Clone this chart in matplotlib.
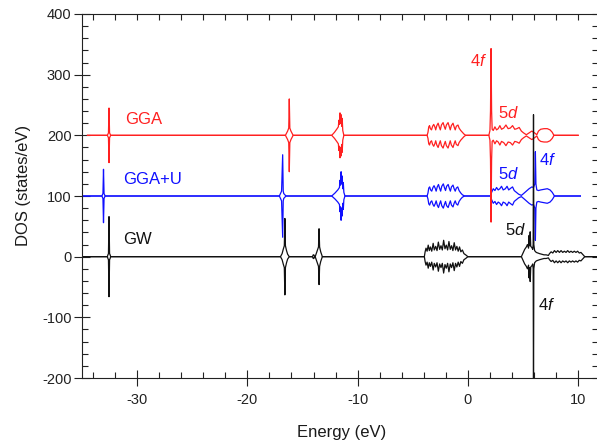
import matplotlib
matplotlib.use("Agg")
import matplotlib.pyplot as plt
from matplotlib.ticker import MultipleLocator, NullFormatter

plt.rcParams['font.family'] = ['Liberation Sans', 'DejaVu Sans']
plt.rcParams['mathtext.fontset'] = 'custom'
plt.rcParams['mathtext.rm'] = 'Liberation Sans'
plt.rcParams['mathtext.it'] = 'Liberation Sans:italic'
plt.rcParams['axes.unicode_minus'] = False

# ---- density of states (one spin channel; the other is drawn mirrored) ----
gga_energy = [-34.5, -32.7, -32.6, -32.55, -32.5, -32.4,
              -16.55, -16.35, -16.25, -16.2, -16.15, -16.05, -15.85,
              -12.35, -12.1, -11.9, -11.75, -11.7, -11.65, -11.6, -11.55, -11.5,
              -11.45, -11.4, -11.35, -11.25,
              -3.7, -3.62, -3.55, -3.48, -3.4, -3.3, -3.2, -3.1, -3.0, -2.92, -2.82,
              -2.7, -2.6, -2.5, -2.4, -2.25, -2.15, -2.05, -1.95, -1.8, -1.7, -1.6,
              -1.5, -1.35, -1.25, -1.15, -1.05, -0.9, -0.8, -0.65, -0.5, -0.35, -0.2,
              1.9, 2.0, 2.05, 2.1, 2.15, 2.2, 2.3, 2.45, 2.6, 2.75, 2.9, 3.05, 3.25,
              3.45, 3.65, 3.85, 4.05, 4.25, 4.45, 4.65, 4.85, 5.05, 5.3, 5.55, 5.8,
              6.05, 6.25, 6.4, 6.6, 6.9, 7.2, 7.45, 7.65, 7.8, 10.0]
gga_dos = [0, 0, 4, 45, 4, 0,
           0, 7, 12, 60, 12, 7, 0,
           0, 5, 10, 14, 25, 18, 37, 20, 34,
           15, 28, 8, 0,
           0, 5, 14, 16, 11, 9, 15, 18, 14, 9, 16,
           20, 14, 9, 17, 21, 15, 10, 17, 21, 15, 9,
           16, 20, 14, 9, 15, 17, 12, 8, 5, 2, 0,
           0, 8, 40, 143, 40, 10, 8, 14, 9, 11, 16, 10, 12,
           17, 11, 12, 16, 10, 11, 13, 7, 4, 1, 4, 7,
           4, 1, 7, 10, 11, 11, 9, 5, 0, 0]

ggau_energy = [-35.0, -33.2, -33.1, -33.05, -33.0, -32.9,
               -17.1, -16.9, -16.8, -16.75, -16.7, -16.5,
               -12.35, -12.05, -11.8, -11.65, -11.6, -11.55, -11.5, -11.45, -11.4,
               -11.35, -11.3, -11.25, -11.15,
               -3.7, -3.62, -3.55, -3.47, -3.38, -3.28, -3.17, -3.07, -2.97, -2.88,
               -2.78, -2.67, -2.57, -2.47, -2.37, -2.23, -2.13, -2.03, -1.93, -1.79,
               -1.69, -1.59, -1.49, -1.35, -1.25, -1.15, -1.05, -0.92, -0.8, -0.65,
               -0.5, -0.3,
               2.05, 2.15, 2.3, 2.45, 2.6, 2.75, 2.9, 3.05, 3.2, 3.4, 3.55, 3.7, 3.9,
               4.05, 4.2, 4.4, 4.6, 4.85, 5.05, 5.3, 5.55, 5.8, 5.95, 6.07, 6.12,
               6.17, 6.25, 6.4, 6.6, 6.9, 7.2, 7.45, 7.65, 7.85, 10.2]
ggau_dos = [0, 0, 4, 44, 4, 0,
            0, 8, 68, 8, 4, 0,
            0, 5, 10, 14, 26, 18, 40, 20, 33,
            12, 22, 6, 0,
            0, 5, 13, 15, 10, 8, 14, 17, 13, 8,
            15, 19, 13, 8, 16, 20, 14, 9, 16, 19,
            13, 8, 15, 18, 12, 8, 13, 15, 9, 5,
            2, 0,
            0, 6, 12, 9, 14, 10, 12, 16, 10, 12, 16, 10, 13,
            15, 9, 6, 3, 1, 4, 8, 12, 15, 14, 20, 73,
            20, 10, 9, 10, 11, 12, 10, 6, 0, 0]

gw_energy = [-35.0, -32.7, -32.65, -32.6, -32.55, -32.5, -32.45, -32.4,
             -17.0, -16.85, -16.75, -16.65, -16.6, -16.55, -16.45, -16.35, -16.2,
             -14.1, -14.03, -13.97, -13.9,
             -13.85, -13.7, -13.55, -13.5, -13.45, -13.35, -13.2,
             -3.95, -3.88, -3.8, -3.7, -3.6, -3.5, -3.4, -3.28, -3.15, -3.05,
             -2.92, -2.8, -2.68, -2.56, -2.44, -2.32, -2.2, -2.08, -1.96, -1.84,
             -1.72, -1.6, -1.48, -1.36, -1.24, -1.12, -1.0, -0.88, -0.76, -0.64,
             -0.5, -0.36, -0.2, 0.0,
             4.85, 5.0, 5.15, 5.3, 5.4, 5.5, 5.55, 5.6, 5.65, 5.7, 5.8, 5.88,
             5.92, 5.95, 5.98, 6.05, 6.2, 6.35, 6.5, 6.7, 6.9, 7.1, 7.3, 7.4,
             7.55, 7.7, 7.85, 8.0, 8.15, 8.3, 8.45, 8.6, 8.75, 8.9, 9.05, 9.2,
             9.35, 9.5, 9.65, 9.8, 9.95, 10.1, 10.25, 10.4, 10.6, 11.8]
gw_dos = [0, 0, 3, 5, 66, 5, 3, 0,
          0, 5, 12, 18, 63, 18, 10, 4, 0,
          0, 3, 3, 0,
          0, 8, 16, 46, 16, 8, 0,
          0, 8, 14, 9, 19, 10, 16, 9, 22, 11,
          17, 10, 24, 12, 18, 11, 27, 13, 19, 11,
          25, 12, 18, 10, 23, 11, 17, 9, 16, 8,
          11, 5, 3, 0,
          0, 6, 12, 16, 20, 14, 35, 18, 41, 17, 15, 12,
          20, 234, 20, 10, 7, 6, 5, 4, 3, 3, 2, 5,
          8, 6, 10, 7, 10, 7, 10, 7, 9, 7, 10, 7,
          9, 7, 9, 7, 9, 6, 7, 4, 0, 0]

series = [
    ("GGA+U", ggau_energy, ggau_dos, 100, "#1010ff"),
    ("GGA", gga_energy, gga_dos, 200, "#ff2020"),
    ("GW", gw_energy, gw_dos, 0, "#111111"),
]

fig = plt.figure(figsize=(5.97, 4.44), dpi=100)
ax = fig.add_axes([82 / 597, 66 / 444, 516 / 597, 364 / 444])

for name, e, d, off, col in series:
    ax.plot(e, [off + v for v in d], color=col, lw=0.9)
    ax.plot(e, [off - v for v in d], color=col, lw=0.9)

ax.set_xlim(-35, 11.8)
ax.set_ylim(-200, 400)

ax.xaxis.set_major_locator(MultipleLocator(10))
ax.xaxis.set_minor_locator(MultipleLocator(2))
ax.yaxis.set_major_locator(MultipleLocator(100))
ax.yaxis.set_minor_locator(MultipleLocator(20))
ax.tick_params(which='major', direction='inout', length=11, width=0.8,
               labelsize=10.5, colors='#222222', pad=5)
ax.tick_params(which='minor', direction='in', length=4, width=0.8, colors='#222222')
ax.tick_params(axis='y', which='major', pad=2)
for s in ax.spines.values():
    s.set_color('#222222')
    s.set_linewidth(0.8)

top = ax.secondary_xaxis('top')
top.xaxis.set_major_locator(MultipleLocator(2))
top.xaxis.set_major_formatter(NullFormatter())
top.tick_params(direction='in', length=4, width=0.8, colors='#222222')
top.spines['top'].set_visible(False)
right = ax.secondary_yaxis('right')
right.yaxis.set_major_locator(MultipleLocator(20))
right.yaxis.set_major_formatter(NullFormatter())
right.tick_params(direction='in', length=4, width=0.8, colors='#222222')
right.spines['right'].set_visible(False)

fig.text(342 / 597, 1 - 432 / 444, "Energy (eV)", ha='center', va='center',
         fontsize=12, color='#1a1a1a')
fig.text(24 / 597, 1 - 185 / 444, "DOS (states/eV)", ha='center', va='center',
         rotation=90, fontsize=12, color='#1a1a1a')

lab = dict(fontsize=12, va='center')
ax.text(-31.1, 226, "GGA", color="#ff2020", ha='left', **lab)
ax.text(-31.3, 128, "GGA+U", color="#1010ff", ha='left', **lab)
ax.text(-31.3, 28, "GW", color="#111111", ha='left', **lab)
ax.text(1.8, 323, r"4$\mathit{f}$", color="#ff2020", ha='right', **lab)
ax.text(3.72, 237, r"5$\mathit{d}$", color="#ff2020", ha='center', **lab)
ax.text(6.46, 160, r"4$\mathit{f}$", color="#1010ff", ha='left', **lab)
ax.text(3.68, 137, r"5$\mathit{d}$", color="#1010ff", ha='center', **lab)
ax.text(4.3, 44, r"5$\mathit{d}$", color="#111111", ha='center', **lab)
ax.text(6.35, -79, r"4$\mathit{f}$", color="#111111", ha='left', **lab)

fig.savefig("out.png", dpi=100)
